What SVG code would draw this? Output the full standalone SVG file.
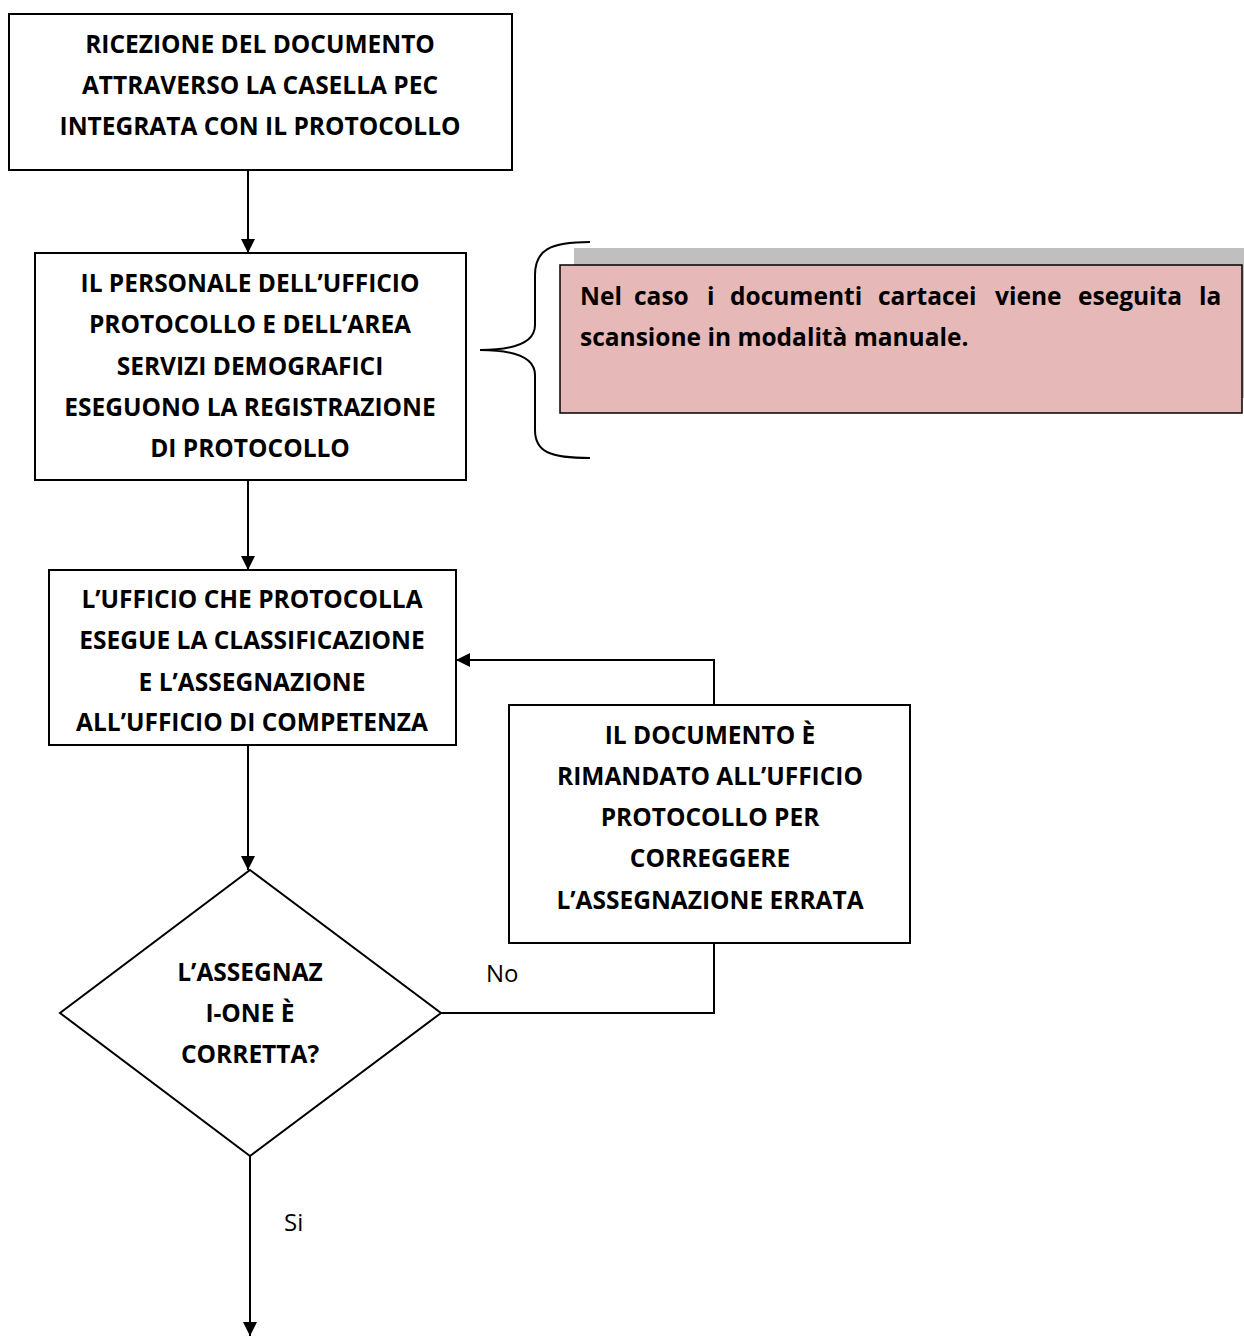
<svg xmlns="http://www.w3.org/2000/svg" width="1244" height="1336" viewBox="0 0 1244 1336">
<defs>
<marker id="ah" markerWidth="14" markerHeight="14" refX="14" refY="7" orient="auto" markerUnits="userSpaceOnUse" viewBox="0 0 14 14">
<path d="M0,0 L14,7 L0,14 Z" fill="#000"/>
</marker>
<style>
.box{fill:#fff;stroke:#000;stroke-width:2}
.t{font-family:"Open Sans",Lato,"Liberation Sans",sans-serif;font-weight:bold;font-size:24.5px;fill:#000;text-anchor:middle}
.lbl{font-family:"Open Sans",Lato,"Liberation Sans",sans-serif;font-size:24px;fill:#000}
.c{fill:none;stroke:#000;stroke-width:2}
</style>
</defs>
<rect width="1244" height="1336" fill="#fff"/>
<g id="connectors">
<line class="c" x1="248" y1="170" x2="248" y2="253" marker-end="url(#ah)"/>
<line class="c" x1="248" y1="480" x2="248" y2="570" marker-end="url(#ah)"/>
<line class="c" x1="248" y1="745" x2="248" y2="870" marker-end="url(#ah)"/>
<polyline class="c" points="441,1013 714,1013 714,943"/>
<polyline class="c" points="714,705 714,660 456,660" marker-end="url(#ah)"/>
<line class="c" x1="250" y1="1156" x2="250" y2="1336" marker-end="url(#ah)"/>
<text class="lbl" x="486" y="982">No</text>
<text class="lbl" x="284" y="1231">Si</text>
</g>
<g id="n1">
<rect class="box" x="9" y="14" width="503" height="156"/>
<text class="t" x="260" y="53">RICEZIONE DEL DOCUMENTO</text>
<text class="t" x="260" y="94">ATTRAVERSO LA CASELLA PEC</text>
<text class="t" x="260" y="135">INTEGRATA CON IL PROTOCOLLO</text>
</g>
<g id="n2">
<rect class="box" x="35" y="253" width="431" height="227"/>
<text class="t" x="250" y="292">IL PERSONALE DELL’UFFICIO</text>
<text class="t" x="250" y="333">PROTOCOLLO E DELL’AREA</text>
<text class="t" x="250" y="375">SERVIZI DEMOGRAFICI</text>
<text class="t" x="250" y="416">ESEGUONO LA REGISTRAZIONE</text>
<text class="t" x="250" y="457">DI PROTOCOLLO</text>
</g>
<g id="note">
<path class="c" d="M590,242 C550,242 535,250 535,275 L535,325 C535,342 515,350 480,350 C515,350 535,358 535,375 L535,430 C535,452 550,458 590,458"/>
<rect x="574" y="248" width="670" height="150" fill="#bfbfbf"/>
<rect x="560" y="265" width="682" height="148" fill="#e6b8b7" stroke="#000" stroke-width="1.5"/>
<text class="t" y="305" style="text-anchor:start"><tspan x="580">Nel</tspan><tspan x="634">caso</tspan><tspan x="707">i</tspan><tspan x="730">documenti</tspan><tspan x="878">cartacei</tspan><tspan x="995">viene</tspan><tspan x="1078">eseguita</tspan><tspan x="1199">la</tspan></text>
<text class="t" x="580" y="346" style="text-anchor:start">scansione in modalità manuale.</text>
</g>
<g id="n3">
<rect class="box" x="49" y="570" width="407" height="175"/>
<text class="t" x="252" y="608">L’UFFICIO CHE PROTOCOLLA</text>
<text class="t" x="252" y="649">ESEGUE LA CLASSIFICAZIONE</text>
<text class="t" x="252" y="691">E L’ASSEGNAZIONE</text>
<text class="t" x="252" y="731">ALL’UFFICIO DI COMPETENZA</text>
</g>
<g id="n4">
<rect class="box" x="509" y="705" width="401" height="238"/>
<text class="t" x="710" y="744">IL DOCUMENTO È</text>
<text class="t" x="710" y="785">RIMANDATO ALL’UFFICIO</text>
<text class="t" x="710" y="826">PROTOCOLLO PER</text>
<text class="t" x="710" y="867">CORREGGERE</text>
<text class="t" x="710" y="909">L’ASSEGNAZIONE ERRATA</text>
</g>
<g id="n5">
<polygon class="box" points="250,870 441,1013 250,1156 60,1013"/>
<text class="t" x="250" y="981">L’ASSEGNAZ</text>
<text class="t" x="250" y="1022">I-ONE È</text>
<text class="t" x="250" y="1063">CORRETTA?</text>
</g>
</svg>
